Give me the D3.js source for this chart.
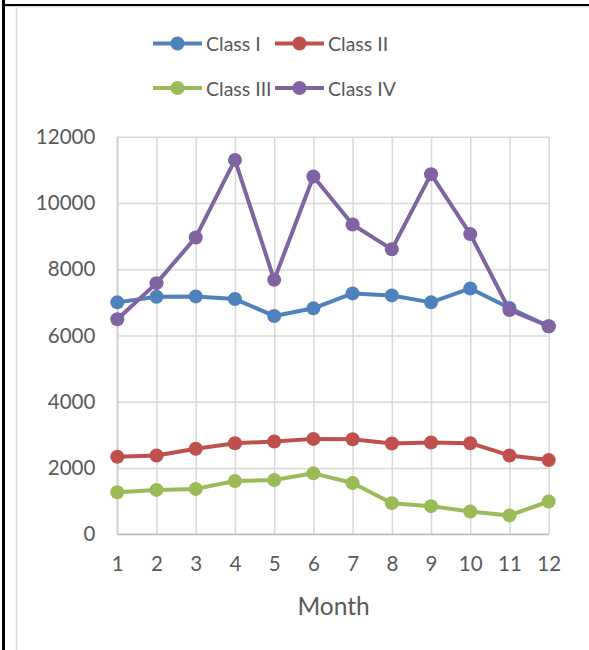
<!DOCTYPE html>
<html>
<head>
<meta charset="utf-8">
<script src="https://cdn.jsdelivr.net/npm/d3@7"></script>
<style>
  html, body { margin: 0; padding: 0; background: #fff; }
  svg { display: block; }
  text { font-family: Lato, "Open Sans", sans-serif; fill: #595959; }
</style>
</head>
<body>
<svg id="chart" width="589" height="650"></svg>
<script>
// Monthly values per class
const months = [1, 2, 3, 4, 5, 6, 7, 8, 9, 10, 11, 12];
const classI   = [7000, 7170, 7180, 7100, 6590, 6820, 7270, 7210, 7000, 7420, 6830, 6280];
const classII  = [2340, 2380, 2580, 2750, 2800, 2880, 2870, 2740, 2770, 2750, 2380, 2240];
const classIII = [1270, 1340, 1370, 1610, 1640, 1840, 1550, 940, 850, 690, 570, 990];
const classIV  = [6490, 7580, 8960, 11300, 7680, 10800, 9350, 8600, 10870, 9060, 6770, 6280];
const seriesNames = ["Class I", "Class II", "Class III", "Class IV"];
const yTicks = [0, 2000, 4000, 6000, 8000, 10000, 12000];
const xTitle = "Month";

const colors = ["#4f81bd", "#c0504d", "#9bbb59", "#8064a2"];
const seriesValues = [classI, classII, classIII, classIV];
const series = seriesNames.map((name, i) => ({
  name, color: colors[i],
  points: months.map((m, j) => ({ m, v: seriesValues[i][j] }))
}));

const svg = d3.select("#chart");

// frame: black page border and light chart-area border
svg.append("rect").attr("x", 2).attr("y", 0).attr("width", 3).attr("height", 650).attr("fill", "#000");
svg.append("rect").attr("x", 2).attr("y", 4).attr("width", 587).attr("height", 2.2).attr("fill", "#000");
svg.append("line").attr("x1", 16.5).attr("x2", 16.5).attr("y1", 6.5).attr("y2", 650)
  .attr("stroke", "#d9d9d9").attr("stroke-width", 1.5);
svg.append("line").attr("x1", 16).attr("x2", 589).attr("y1", 7).attr("y2", 7)
  .attr("stroke", "#e6e6e6").attr("stroke-width", 1);

const plotL = 117.3, plotR = 548.7, plotT = 136.7, plotB = 534.3;
const x = d3.scalePoint().domain(months).range([plotL, plotR]);
const y = d3.scaleLinear().domain([0, 12000]).range([plotB, plotT]);

// horizontal gridlines + y labels
const gy = svg.append("g").attr("transform", `translate(${plotL},0)`)
  .call(d3.axisLeft(y).tickValues(yTicks).tickFormat(d3.format("d"))
    .tickSize(-(plotR - plotL)).tickPadding(22));
gy.select(".domain").remove();
gy.selectAll(".tick line").attr("stroke", "#d9d9d9").attr("stroke-width", 1.5);
gy.selectAll(".tick text").style("font-size", "20.5px").attr("fill", "#595959")
  .style("font-family", "Lato, sans-serif");

// vertical gridlines + x labels
const gx = svg.append("g").attr("transform", `translate(0,${plotB})`)
  .call(d3.axisBottom(x).tickSize(-(plotB - plotT)).tickPadding(22));
gx.select(".domain").remove();
gx.selectAll(".tick line").attr("stroke", "#d9d9d9").attr("stroke-width", 1.5);
gx.selectAll(".tick text").style("font-size", "20.5px").attr("fill", "#595959")
  .style("font-family", "Lato, sans-serif");

// axis lines
svg.append("line").attr("x1", plotL).attr("x2", plotL).attr("y1", plotT).attr("y2", plotB)
  .attr("stroke", "#cfcfcf").attr("stroke-width", 1.5);
svg.append("line").attr("x1", plotL).attr("x2", plotR).attr("y1", plotB).attr("y2", plotB)
  .attr("stroke", "#bfbfbf").attr("stroke-width", 1.5);

// axis title
svg.append("text").attr("x", (plotL + plotR) / 2 + 0.5).attr("y", 605)
  .attr("text-anchor", "middle").attr("dominant-baseline", "central")
  .style("font-size", "24.5px").text(xTitle);

// series lines and markers
const line = d3.line().x(d => x(d.m)).y(d => y(d.v));
const g = svg.append("g");
series.forEach(s => {
  g.append("path").datum(s.points).attr("d", line)
    .attr("fill", "none").attr("stroke", s.color).attr("stroke-width", 4)
    .attr("stroke-linejoin", "round");
  g.selectAll(null).data(s.points).enter().append("circle")
    .attr("cx", d => x(d.m)).attr("cy", d => y(d.v)).attr("r", 7)
    .attr("fill", s.color);
});

// legend (two rows, two columns)
const legendPos = [[153, 43.5], [275, 43.5], [153, 88], [275, 88]];
series.forEach((s, i) => {
  const [lx, ly] = legendPos[i];
  const lg = svg.append("g").attr("transform", `translate(${lx},${ly})`);
  lg.append("line").attr("x1", 0).attr("x2", 49).attr("y1", 0).attr("y2", 0)
    .attr("stroke", s.color).attr("stroke-width", 4);
  lg.append("circle").attr("cx", 24.5).attr("cy", 0).attr("r", 7).attr("fill", s.color);
  lg.append("text").attr("x", 53).attr("y", 0).attr("dominant-baseline", "central")
    .style("font-size", "19.5px").text(s.name);
});
</script>
</body>
</html>
